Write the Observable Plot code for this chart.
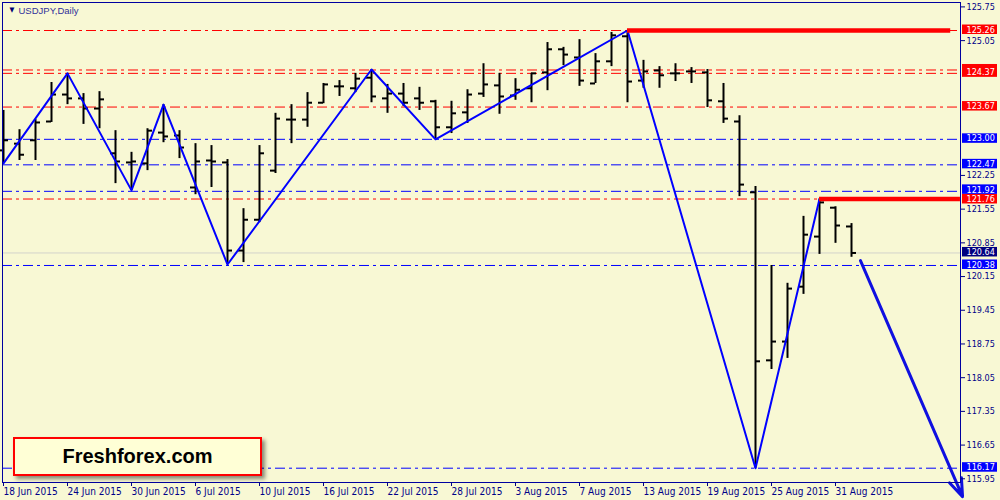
<!DOCTYPE html>
<html>
<head>
<meta charset="utf-8">
<script src="https://cdn.jsdelivr.net/npm/d3@7"></script>
<script src="https://cdn.jsdelivr.net/npm/@observablehq/plot@0.6"></script>
<style>
html, body { margin: 0; padding: 0; background: #f8f8d4; }
#wrap { position: relative; width: 1000px; height: 500px; overflow: hidden; }
#logo {
  position: absolute; left: 13px; top: 437px; width: 245px; height: 35px;
  border: 2px solid #ff0000; background: #ffffd6;
  box-shadow: 3px 3px 4px rgba(0,0,0,0.45);
  font: bold 20px "Liberation Sans", Arial, sans-serif; color: #000;
  display: flex; align-items: center; justify-content: center;
}
</style>
</head>
<body>
<div id="wrap"><div id="chart"></div><div id="logo">Freshforex.com</div></div>
<script>
// ---------- data ----------
const days = [
  "2015-06-18","2015-06-19","2015-06-22","2015-06-23","2015-06-24","2015-06-25","2015-06-26","2015-06-29","2015-06-30",
  "2015-07-01","2015-07-02","2015-07-03","2015-07-06","2015-07-07","2015-07-08","2015-07-09","2015-07-10",
  "2015-07-13","2015-07-14","2015-07-15","2015-07-16","2015-07-17","2015-07-20","2015-07-21","2015-07-22",
  "2015-07-23","2015-07-24","2015-07-27","2015-07-28","2015-07-29","2015-07-30","2015-07-31",
  "2015-08-03","2015-08-04","2015-08-05","2015-08-06","2015-08-07","2015-08-10","2015-08-11","2015-08-12",
  "2015-08-13","2015-08-14","2015-08-17","2015-08-18","2015-08-19","2015-08-20","2015-08-21","2015-08-24",
  "2015-08-25","2015-08-26","2015-08-27","2015-08-28","2015-08-31","2015-09-01"
];
const open = [122.77,122.91,122.98,123.37,123.93,123.85,123.64,122.71,122.52,122.50,123.14,123.08,122.00,122.56,122.52,120.69,121.33,122.35,123.41,123.41,123.76,124.10,124.06,124.28,123.85,123.95,123.85,123.79,123.25,123.56,123.95,124.12,123.91,124.06,124.39,124.87,124.70,124.16,124.62,125.14,124.22,124.43,124.37,124.41,124.39,123.79,123.37,121.90,118.41,118.80,119.94,120.98,121.58,121.19];
const high = [123.60,123.20,123.41,124.18,124.37,123.95,123.99,123.18,122.73,123.22,123.72,123.18,122.91,122.87,122.58,121.56,122.87,123.54,123.72,123.97,124.16,124.22,124.37,124.45,124.14,124.16,124.08,123.81,123.79,124.03,124.57,124.37,124.26,124.37,125.01,124.91,125.07,124.78,125.22,125.26,124.64,124.51,124.57,124.49,124.45,124.16,123.49,122.02,120.38,120.01,121.40,121.76,121.60,121.25];
const low = [122.50,122.56,122.56,123.35,123.72,123.31,123.22,122.08,121.94,122.35,122.93,122.60,121.85,122.00,120.40,120.44,121.27,122.29,122.91,123.25,123.74,123.89,123.97,123.76,123.54,123.68,123.60,123.00,123.12,123.33,123.87,123.52,123.81,123.76,124.01,124.53,124.10,124.16,124.51,123.76,124.06,124.06,124.20,124.16,123.66,123.33,121.81,116.17,118.22,118.45,119.78,120.61,120.84,120.55];
const close = [122.98,122.68,123.35,123.93,123.85,123.64,123.83,122.54,122.54,123.18,123.06,122.83,122.54,122.54,120.69,121.33,122.71,123.43,123.41,123.76,124.14,124.10,124.26,123.89,123.95,123.76,123.76,123.25,123.54,123.93,124.14,123.89,124.03,124.37,124.87,124.76,124.22,124.62,125.16,124.20,124.41,124.33,124.37,124.41,123.81,123.43,122.06,118.39,118.80,119.90,121.02,121.69,121.21,120.64];

const zigzagBar   = [0, 4, 8, 10, 14, 23, 27, 39, 47, 51];
const zigzagPrice = [122.50, 124.37, 121.94, 123.72, 120.40, 124.45, 123.00, 125.26, 116.17, 121.76];

const levelPrice = [125.26, 124.44, 124.37, 123.67, 123.00, 122.47, 121.92, 121.76, 120.38, 116.17];
const levelColor = ["#ff0000","#ff0000","#ff0000","#ff0000","#0000ff","#0000ff","#0000ff","#ff0000","#0000ff","#0000ff"];
const levelShowText = [true, false, true, true, true, true, true, true, true, true]; // 124.44 label is hidden under 124.37
const bidPrice = 120.64;

const thickPrice   = [125.26, 121.76];
const thickFromBar = [39, 51];
const thickToBar   = [59.2, 59.81];

const arrowFrom = [53.56, 120.48];  // [bar, price]
const arrowTo   = [59.94, 115.58];

const yTicks = [125.75,125.05,122.25,121.55,120.85,120.15,119.45,118.75,118.05,117.35,116.65,115.95];
const xTickBars = [0,4,8,12,16,20,24,28,32,36,40,44,48,52];

// ---------- build ----------
const parse = d3.utcParse("%Y-%m-%d");
const fmt = d3.utcFormat("%-d %b %Y");
const bars = days.map((d, i) => ({i, o: open[i], h: high[i], l: low[i], c: close[i]}));
const zz = zigzagBar.map((b, k) => ({b, p: zigzagPrice[k]}));
const levels = levelPrice.map((p, k) => ({p, color: levelColor[k], show: levelShowText[k]}));
const thick = thickPrice.map((p, k) => ({p, a: thickFromBar[k], b: thickToBar[k]}));

const xDomain = [-0.0625, 59.8125];
const yDomain = [115.873, 125.8415];
const W = 1000, H = 500, mT = 2, mB = 18, mL = 2, mR = 40;
const pxX = (xDomain[1] - xDomain[0]) / (W - mL - mR);   // bar units per pixel
const pxY = (yDomain[1] - yDomain[0]) / (H - mT - mB);   // price per pixel
const tick = 5 * pxX;

const font = '"DejaVu Sans Condensed", "Liberation Sans", sans-serif';

// right-hand price labels, nudged apart like the terminal does when they collide
const labels = levels.concat([{p: bidPrice, color: "#000080", show: true}]).map(d => ({...d, c: d.p}));
const shown = labels.filter(d => d.show).sort((a, b) => b.p - a.p);
const minGap = 9.6 * pxY;
for (let it = 0; it < 5; it++) {
  for (let k = 0; k < shown.length - 1; k++) {
    const a = shown[k], b = shown[k + 1];
    const gap = a.c - b.c;
    if (gap < minGap) { const m = (minGap - gap) / 2; a.c += m; b.c -= m; }
  }
}

const labelMarks = labels.flatMap(d => [
  Plot.rect([d], {
    x1: () => xDomain[1] + 2 * pxX, x2: () => xDomain[1] + 37 * pxX,
    y1: v => v.c - 4 * pxY, y2: v => v.c + 5.5 * pxY,
    fill: d.color
  }),
  ...(d.show ? [Plot.text([d], {
    x: () => xDomain[1], y: v => v.c + 0.75 * pxY, dx: 6,
    text: v => v.p.toFixed(2), textAnchor: "start", fill: "white",
    fontSize: 9, fontFamily: font
  })] : [])
]);

const chart = Plot.plot({
  width: W, height: H,
  marginTop: mT, marginBottom: mB, marginLeft: mL, marginRight: mR,
  x: {domain: xDomain},
  y: {domain: yDomain},
  style: {background: "#f8f8d4", fontFamily: font, fontSize: "10px", overflow: "visible"},
  marks: [
    // horizontal levels
    ...levels.map(d => Plot.ruleY([d.p], {stroke: d.color, strokeWidth: 1, strokeDasharray: "10,4,3,4"})),
    Plot.ruleY([bidPrice], {stroke: "#d4d4cc", strokeWidth: 1}),
    // OHLC bars
    Plot.ruleX(bars, {x: "i", y1: "l", y2: "h", stroke: "black", strokeWidth: 2}),
    Plot.ruleY(bars, {y: "o", x1: d => d.i - tick, x2: d => d.i, stroke: "black", strokeWidth: 2}),
    Plot.ruleY(bars, {y: "c", x1: d => d.i, x2: d => d.i + tick, stroke: "black", strokeWidth: 2}),
    // zigzag
    Plot.line(zz, {x: "b", y: "p", stroke: "#0000ff", strokeWidth: 2}),
    // thick red levels
    Plot.ruleY(thick, {y: "p", x1: "a", x2: "b", stroke: "#ff0000", strokeWidth: 4.5, ariaLabel: "shadowed"}),
    // forecast arrow
    Plot.arrow([0], {x1: () => arrowFrom[0], y1: () => arrowFrom[1], x2: () => arrowTo[0], y2: () => arrowTo[1],
      stroke: "#1010e0", strokeWidth: 3, headLength: 9.5, headAngle: 40, ariaLabel: "shadowed"}),
    // frame & axes
    Plot.frame({stroke: "#0000a0"}),
    Plot.axisY(yTicks, {anchor: "right", tickSize: 4, tickPadding: 2, tickFormat: d => d.toFixed(2),
      color: "#000088", fontSize: 9, label: null}),
    Plot.axisX(xTickBars, {anchor: "bottom", tickSize: 4, tickPadding: 1, tickFormat: i => fmt(parse(days[i])),
      textAnchor: "start", color: "#000088", fontSize: 10, label: null}),
    // price labels
    ...labelMarks,
    // title
    Plot.text(["\u25BC"], {frameAnchor: "top-left", dx: 7, dy: 5, fontSize: 7, fill: "#000070", textAnchor: "start"}),
    Plot.text(["USDJPY,Daily"], {frameAnchor: "top-left", dx: 16, dy: 5, fontSize: 9.5, fill: "#30309a",
      textAnchor: "start", fontFamily: '"Liberation Sans", Arial, sans-serif'})
  ]
});

const svg = d3.select(chart);
const defs = svg.insert("defs", ":first-child");
const f = defs.append("filter").attr("id", "sh").attr("filterUnits", "userSpaceOnUse")
  .attr("x", 0).attr("y", 0).attr("width", W).attr("height", H);
f.append("feDropShadow").attr("dx", 2).attr("dy", 3).attr("stdDeviation", 2)
  .attr("flood-color", "#000").attr("flood-opacity", 0.45);
svg.selectAll('g[aria-label="shadowed"]').attr("filter", "url(#sh)");

document.getElementById("chart").appendChild(chart);
</script>
</body>
</html>
